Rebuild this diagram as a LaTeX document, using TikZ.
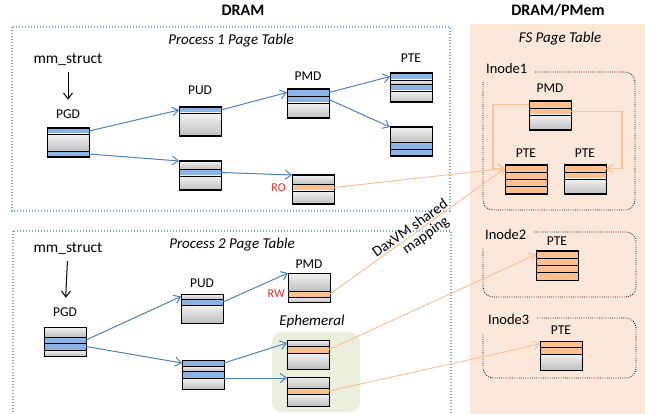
\documentclass[tikz,border=0pt]{standalone}
\usepackage{fontspec}
\setmainfont{Carlito}
\usetikzlibrary{positioning,arrows.meta}

\definecolor{rowblue}{HTML}{8DB4E2}
\definecolor{roworange}{HTML}{FAC090}
\definecolor{linkblue}{HTML}{4F81BD}
\definecolor{linkorange}{HTML}{F8C49A}
\definecolor{boxblue}{HTML}{7EA6DA}
\definecolor{fsbg}{HTML}{FCE8DA}
\definecolor{ephbg}{HTML}{EBF0DE}
\definecolor{flagred}{HTML}{F02828}

% table de pages : nom, coin haut gauche, lignes (style/hauteur)
\newcommand{\ptable}[3]{%
  \begin{scope}[shift={(#2)}]
    \gdef\rowtop{0}
    \foreach \kind/\rh [count=\i] in {#3}{
      \node[row,\kind,minimum height=\rh pt,anchor=north west] (#1-\i) at (0,\rowtop) {};
      \pgfmathsetmacro\rowbot{\rowtop+\rh}
      \xdef\rowtop{\rowbot}
    }
    \node[tblframe,minimum height=\rowtop pt,anchor=north west] (#1) at (0,0) {};
  \end{scope}
}

\begin{document}
\begin{tikzpicture}[x=1pt, y=-1pt,
    row/.style={draw=black, line width=0.8pt, minimum width=42pt, inner sep=0, outer sep=0},
    gr/.style={top color=gray!10, bottom color=gray!50},
    bl/.style={fill=rowblue},
    og/.style={fill=roworange},
    tblframe/.style={draw=black, line width=1pt, minimum width=42pt, inner sep=0, outer sep=0},
    lbl/.style={font=\fontsize{13.5}{16}\selectfont, inner sep=0},
    mmlbl/.style={font=\fontsize{15.5}{18}\selectfont, inner sep=0},
    flag/.style={font=\fontsize{12}{14}\selectfont, text=flagred, inner sep=0},
    ital/.style={font=\fontsize{15}{18}\selectfont\itshape},
    title/.style={font=\fontsize{16}{19}\selectfont\bfseries},
    procbox/.style={draw=boxblue, line width=1.2pt, dash pattern=on 1.4pt off 1.6pt},
    inodebox/.style={draw=black, line width=0.8pt, dash pattern=on 0.8pt off 1.4pt, rounded corners=10pt},
    inodelbl/.style={fill=fsbg, font=\fontsize{14.5}{17}\selectfont, inner xsep=8pt, inner ysep=8pt, anchor=west},
    ptr/.style={draw=linkblue, line width=1pt, -{Straight Barb[length=6pt,width=9pt]}},
    fslink/.style={draw=linkorange, line width=1pt, -{Straight Barb[length=6pt,width=9pt]}},
    daxlbl/.style={sloped, inner sep=1.5pt, font=\fontsize{15}{17}\selectfont},
  ]
  % Fond
  \useasboundingbox (0,0) rectangle (656,414);
  \clip (0,0) rectangle (656,414);
  \fill[white] (0,0) rectangle (656,414);
  \fill[fsbg] (470,24) rectangle (645,414);

  % Titres
  \node[title] (dram) at (243,10) {DRAM};
  \node[title] (pmem) at (558,10) {DRAM/PMem};

  % Process 1
  \draw[procbox] (12,27) rectangle (450,211);
  \node[ital] (p1title) at (231,41) {Process 1 Page Table};
  \ptable{pgdA}{47,128}{bl/6,gr/17,bl/6}
  \ptable{pudA}{179,107}{bl/6,gr/23}
  \ptable{pudB}{179,161}{gr/8,bl/7,gr/14}
  \ptable{pmdA}{287,89}{bl/7,bl/7,gr/15}
  \ptable{pteA}{390,73}{bl/7,gr/4,bl/7,gr/11}
  \ptable{pteB}{390,127}{gr/15,bl/7,bl/7}
  \ptable{roA}{292,175}{gr/9,og/7,gr/13}
  \node[lbl, above=9pt of pgdA] (pgdAl) {PGD};
  \node[lbl, above=12pt of pudA] (pudAl) {PUD};
  \node[lbl, above=8pt of pmdA] (pmdAl) {PMD};
  \node[lbl, above=10pt of pteA] (pteAl) {PTE};
  \node[flag, left=6pt of roA-2] (roAl) {RO};
  \node[mmlbl] (mmA) at (68,60) {mm\_struct};
  \draw[line width=1pt, -{Straight Barb[length=6pt,width=9pt]}, shorten <=6pt, shorten >=10pt] (mmA) -- (pgdAl);
  \draw[ptr] (pgdA-1.east) -- (pudA-1.west);
  \draw[ptr] (pgdA-3.east) -- (pudB.north west);
  \draw[ptr] (pudA-1.east) -- (pmdA-1.west);
  \draw[ptr] (pudB-2.east) -- (roA.north west);
  \draw[ptr] (pmdA-1.east) -- (pteA-1.west);
  \draw[ptr] (pmdA-2.east) -- (pteB.north west);

  % Process 2
  \draw[procbox] (13,231) rectangle (451,430);
  \node[ital] (p2title) at (232,245) {Process 2 Page Table};
  \fill[ephbg, rounded corners=10pt] (272,332) rectangle (360,412);
  \node[ital] (ephl) at (312,322) {Ephemeral};
  \ptable{pgdB}{44,327}{gr/10,bl/6,bl/7,gr/6}
  \ptable{pudC}{181,294}{gr/5,bl/6,gr/18}
  \ptable{pudD}{182,360}{bl/6,gr/5,bl/7,gr/11}
  \ptable{pmdB}{288,273}{gr/18,og/6,gr/5}
  \ptable{ephA}{287,340}{gr/6,og/7,gr/16}
  \ptable{ephB}{287,377}{gr/11,og/6,gr/12}
  \node[lbl, above=10pt of pgdB] (pgdBl) {PGD};
  \node[lbl, above=6pt of pudC] (pudCl) {PUD};
  \node[lbl, above=4pt of pmdB] (pmdBl) {PMD};
  \node[flag, left=3pt of pmdB-2] (rwBl) {RW};
  \node[mmlbl] (mmB) at (68,249) {mm\_struct};
  \draw[line width=1pt, -{Straight Barb[length=6pt,width=9pt]}, shorten <=6pt, shorten >=10pt] (mmB) -- (pgdBl);
  \draw[ptr] (pgdB-2.east) -- (pudC-1.west);
  \draw[ptr] (pgdB-3.east) -- (pudD-1.west);
  \draw[ptr] (pudC-2.east) -- (pmdB.north west);
  \draw[ptr] (pudD-1.east) -- (ephA-1.west);
  \draw[ptr] (pudD-3.south east) -- (pudD-3.south east -| ephB.west);

  % FS Page Table
  \node[ital] (fstitle) at (560,39) {FS Page Table};
  \draw[inodebox] (483,72) rectangle (635,210);
  \node[inodelbl] (in1) at (478,69) {Inode1};
  \draw[inodebox] (483,232) rectangle (636,297);
  \node[inodelbl] (in2) at (477,235) {Inode2};
  \draw[inodebox] (483,318) rectangle (636,378);
  \node[inodelbl] (in3) at (480,320) {Inode3};
  \ptable{fpmd}{529,101}{og/7,og/7,gr/15}
  \ptable{fpteA}{505,165}{og/7,og/7,og/7,og/8}
  \ptable{fpteB}{564,165}{og/7,og/7,gr/15}
  \ptable{fpteC}{536,251}{og/7,og/7,og/7,og/8}
  \ptable{fpteD}{540,341}{og/6,og/7,gr/16}
  \node[lbl, above=8pt of fpmd] (fpmdl) {PMD};
  \node[lbl, above=7pt of fpteA] (fpteAl) {PTE};
  \node[lbl, above=7pt of fpteB] (fpteBl) {PTE};
  \node[lbl, above=5pt of fpteC] (fpteCl) {PTE};
  \node[lbl, above=6pt of fpteD] (fpteDl) {PTE};
  \draw[fslink, line width=1.2pt] (fpmd-1.west) -- ++(-36,0) |- (fpteA-1.west);
  \draw[fslink, line width=1.2pt] (fpmd-2.east) -- ++(51,0) |- (fpteB-1.east);

  % Liens partages
  \draw[fslink] (roA-2.east) -- (fpteA-1.west);
  \draw[fslink] (pmdB-2.east) -- node[daxlbl, above, pos=0.48] (daxl1) {DaxVM shared}
                                  node[daxlbl, below, pos=0.52] (daxl2) {mapping} (fpteA-1.west);
  \draw[fslink] (ephA-2.east) -- (fpteC-1.west);
  \draw[fslink] (ephB-2.east) -- (fpteD-1.west);
\end{tikzpicture}
\end{document}
